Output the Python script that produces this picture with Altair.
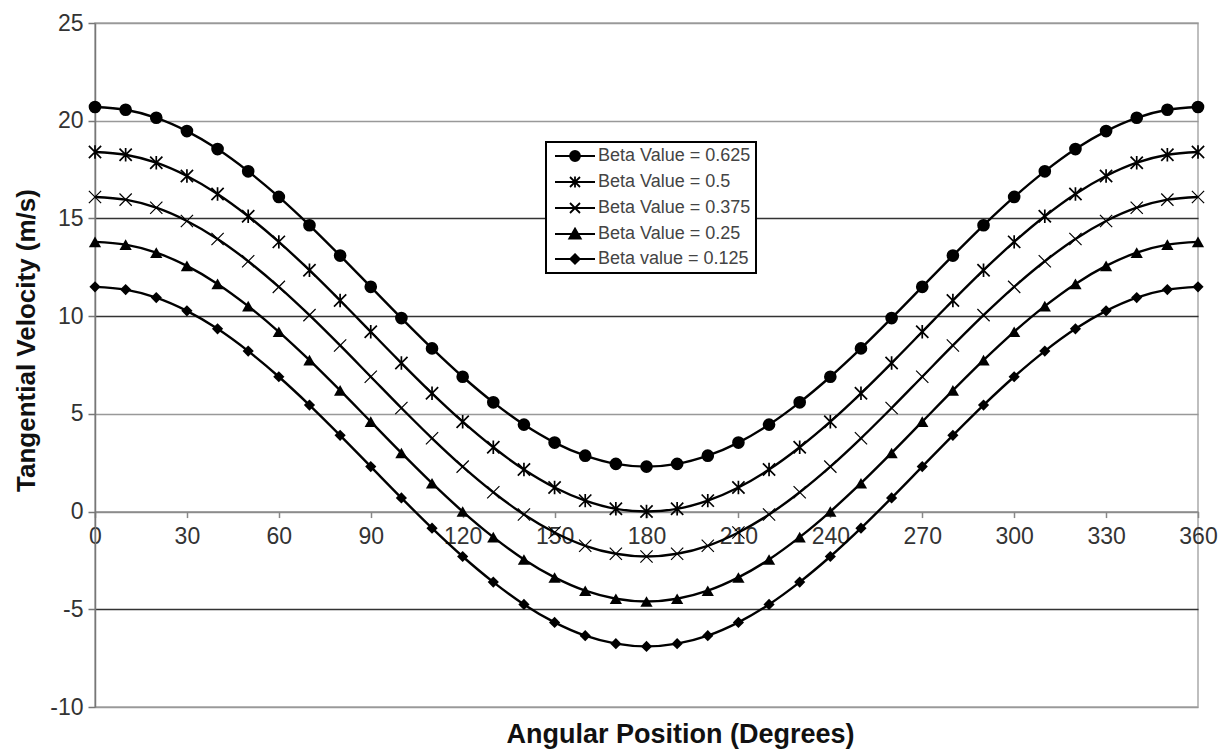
import altair as alt
import pandas as pd

angles = list(range(0, 361, 10))

beta_0625 = [20.70, 20.56, 20.15, 19.47, 18.55, 17.41, 16.10, 14.65, 13.10, 11.50, 9.90, 8.35, 6.90, 5.59, 4.45, 3.53, 2.86, 2.44, 2.30,
             2.44, 2.86, 3.53, 4.45, 5.59, 6.90, 8.35, 9.90, 11.50, 13.10, 14.65, 16.10, 17.41, 18.55, 19.47, 20.15, 20.56, 20.70]
beta_05 = [18.40, 18.26, 17.85, 17.17, 16.25, 15.11, 13.80, 12.35, 10.80, 9.20, 7.60, 6.05, 4.60, 3.29, 2.15, 1.23, 0.56, 0.14, 0.00,
           0.14, 0.56, 1.23, 2.15, 3.29, 4.60, 6.05, 7.60, 9.20, 10.80, 12.35, 13.80, 15.11, 16.25, 17.17, 17.85, 18.26, 18.40]
beta_0375 = [16.10, 15.96, 15.55, 14.87, 13.95, 12.81, 11.50, 10.05, 8.50, 6.90, 5.30, 3.75, 2.30, 0.99, -0.15, -1.07, -1.75, -2.16, -2.30,
             -2.16, -1.75, -1.07, -0.15, 0.99, 2.30, 3.75, 5.30, 6.90, 8.50, 10.05, 11.50, 12.81, 13.95, 14.87, 15.55, 15.96, 16.10]
beta_025 = [13.80, 13.66, 13.25, 12.57, 11.65, 10.51, 9.20, 7.75, 6.20, 4.60, 3.00, 1.45, 0.00, -1.31, -2.45, -3.37, -4.05, -4.46, -4.60,
            -4.46, -4.05, -3.37, -2.45, -1.31, 0.00, 1.45, 3.00, 4.60, 6.20, 7.75, 9.20, 10.51, 11.65, 12.57, 13.25, 13.66, 13.80]
beta_0125 = [11.50, 11.36, 10.95, 10.27, 9.35, 8.21, 6.90, 5.45, 3.90, 2.30, 0.70, -0.85, -2.30, -3.61, -4.75, -5.67, -6.35, -6.76, -6.90,
             -6.76, -6.35, -5.67, -4.75, -3.61, -2.30, -0.85, 0.70, 2.30, 3.90, 5.45, 6.90, 8.21, 9.35, 10.27, 10.95, 11.36, 11.50]

labels = ["Beta Value = 0.625", "Beta Value = 0.5", "Beta Value = 0.375",
          "Beta Value = 0.25", "Beta value = 0.125"]
series_values = [beta_0625, beta_05, beta_0375, beta_025, beta_0125]

x_ticks = [0, 30, 60, 90, 120, 150, 180, 210, 240, 270, 300, 330, 360]
y_ticks = [-10, -5, 0, 5, 10, 15, 20, 25]

rows = []
for lab, vals in zip(labels, series_values):
    for a, v in zip(angles, vals):
        rows.append({"angle": a, "velocity": v, "series": lab})
df = pd.DataFrame(rows)

FONT = "Liberation Sans"
W = 1103
H = 684
x_axis_offset = -(H * 10 / 35)

ASTERISK = "M-1,-1L1,1M-1,1L1,-1M0,-1.1L0,1.1"
XCROSS = "M-1,-1L1,1M-1,1L1,-1"

legend_paths = [
    "M-4,0L4,0M-1,0A1,1,0,1,1,1,0A1,1,0,1,1,-1,0Z",
    "M-4,0L4,0M-1,-1L1,1M-1,1L1,-1M0,-1.1L0,1.1",
    "M-4,0L4,0M-1,-1L1,1M-1,1L1,-1",
    "M-4,0L4,0M0,-1.1L1.15,0.9L-1.15,0.9Z",
    "M-4,0L4,0M0,-0.95L0.95,0L0,0.95L-0.95,0Z",
]
legend_colors = ["black", "black", "black", "black", "black"]

x_enc = alt.X(
    "angle:Q",
    scale=alt.Scale(domain=[0, 360], nice=False, zero=False),
    axis=alt.Axis(
        values=x_ticks, offset=x_axis_offset, grid=False,
        domainColor="#888", domainWidth=1.5, tickColor="#888", tickWidth=1.5, tickSize=6,
        labelFontSize=23, labelColor="#333", labelFont=FONT, labelPadding=8,
        labelFlush=False, labelOverlap=False,
        title="Angular Position (Degrees)", titleFont=FONT, titleFontSize=27,
        titleFontWeight="bold", titleColor="#111", titleX=585, titleY=223,
        titleBaseline="middle",
    ),
)
y_enc = alt.Y(
    "velocity:Q",
    scale=alt.Scale(domain=[-10, 25], nice=False, zero=False),
    axis=alt.Axis(
        values=y_ticks, grid=True,
        gridColor={"condition": {"test": "datum.value == -5 || datum.value == 10 || datum.value == 15",
                                 "value": "#333"}, "value": "#999"},
        gridWidth=1.5,
        domainColor="#777", domainWidth=1.5, tickColor="#777", tickWidth=1.5, tickSize=7,
        labelFontSize=23, labelColor="#333", labelFont=FONT, labelPadding=5,
        labelOverlap=False, labelExpr="replace(datum.label, '\u2212', '-')",
        title="Tangential Velocity (m/s)", titleFont=FONT, titleFontSize=26,
        titleFontWeight="bold", titleColor="#111", titleX=-69, titleY=317,
        titleBaseline="middle",
    ),
)

base = alt.Chart(df)

lines = base.mark_line(color="black", strokeWidth=2.4, interpolate="monotone").encode(
    x=x_enc, y=y_enc, detail="series:N"
)

marker_specs = [
    dict(shape="circle", filled=True, size=160),
    dict(shape=ASTERISK, filled=False, size=150, strokeWidth=1.7),
    dict(shape=XCROSS, filled=False, size=150, strokeWidth=1.2),
    dict(shape="triangle-up", filled=True, size=150),
    dict(shape="diamond", filled=True, size=125),
]

point_layers = []
for lab, spec in zip(labels, marker_specs):
    point_layers.append(
        base.transform_filter(alt.datum.series == lab)
        .mark_point(color="black", opacity=1, **spec)
        .encode(x=x_enc, y=y_enc)
    )

legend_spec = alt.Legend(
    title=None, orient="none", legendX=451, legendY=119,
    fillColor="white", strokeColor="black", padding=5,
    labelFont=FONT, labelFontSize=18, labelColor="#444",
    symbolSize=100, symbolStrokeWidth=1.8, symbolOpacity=1,
    symbolOffset=15, labelOffset=14, rowPadding=7,
)

legend_layer = base.mark_point(filled=True, strokeWidth=1.6, opacity=0).encode(
    x=x_enc, y=y_enc,
    shape=alt.Shape("series:N", scale=alt.Scale(domain=labels, range=legend_paths), legend=legend_spec),
    fill=alt.Fill("series:N", scale=alt.Scale(domain=labels, range=legend_colors), legend=legend_spec),
    stroke=alt.Stroke("series:N", scale=alt.Scale(domain=labels, range=legend_colors), legend=legend_spec),
)

chart = (
    alt.layer(lines, *point_layers, legend_layer)
    .properties(
        width=W, height=H,
        padding={"left": 87, "top": 15, "right": 25, "bottom": 45},
        autosize="none",
    )
    .configure_view(stroke="#aaa", strokeWidth=1.5)
)

try:
    _c = chart.configure_legend(strokeWidth=2)
    _c.to_dict()
    chart = _c
except Exception:
    pass

chart.save("out.html", embed_options={"renderer": "svg", "actions": False})
